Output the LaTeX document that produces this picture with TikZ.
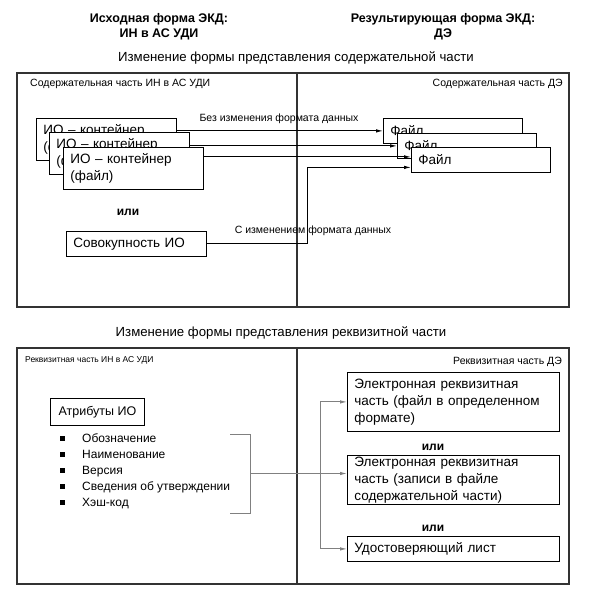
\documentclass[tikz,border=0pt]{standalone}
\usepackage{fontspec}
\setmainfont{Liberation Sans}
\usetikzlibrary{arrows.meta}
\begin{document}
\begin{tikzpicture}[x=1pt,y=-1pt,inner sep=0pt,
   frame/.style={draw=black!80,line width=1.7pt},
   divider/.style={draw=black!80,line width=1.3pt},
   box/.style={draw,fill=white,line width=0.8pt,anchor=north west,align=left,
     inner xsep=7pt,font=\fontsize{13.5}{17}\selectfont},
   lbl/.style={font=\fontsize{10.5}{12}\selectfont},
   head/.style={font=\bfseries\fontsize{12.5}{15}\selectfont,align=center},
   title/.style={font=\fontsize{13.2}{15}\selectfont},
   ili/.style={font=\bfseries\fontsize{12}{14}\selectfont},
   item/.style={anchor=base west,font=\fontsize{12}{14}\selectfont},
   arr/.style={-{Latex[length=7pt,width=3.5pt]},line width=0.9pt},
   gline/.style={draw=black!50,line width=0.9pt},
   garr/.style={gline,-{Latex[length=7pt,width=3.5pt]}}]
   \useasboundingbox (0,0) rectangle (593,601);
   % headings
   \node[head] (src) at (159,27) {Исходная форма ЭКД:\\ИН в АС УДИ};
   \node[head] (res) at (443,27) {Результирующая форма ЭКД:\\ДЭ};
   \node[title] (t1) at (296,58) {Изменение формы представления содержательной части};
   \node[title] (t2) at (281,333) {Изменение формы представления реквизитной части};

   % content part
   \draw[frame] (17,73) rectangle (569,307);
   \draw[divider] (297,73) -- (297,307);
   \node[lbl,anchor=west] (lsrc) at (30,84) {Содержательная часть ИН в АС УДИ};
   \node[lbl,anchor=east] (ldst) at (563,84) {Содержательная часть ДЭ};

   \node[box,text width=126pt,minimum height=42pt] (io1) at (36,118) {ИО – контейнер\\(файл)};
   \node[box,text width=126pt,minimum height=42pt] (io2) at (49,132) {ИО – контейнер\\(файл)};
   \node[box,text width=126pt,minimum height=42pt] (io3) at (63,147) {ИО – контейнер\\(файл)};
   \node[ili] (or1) at (128,212) {или};
   \node[box,text width=126pt,minimum height=25pt] (sov) at (66,231) {Совокупность ИО};

   \node[box,text width=125pt,minimum height=25pt] (f1) at (383,118) {Файл};
   \node[box,text width=125pt,minimum height=25pt] (f2) at (397,133) {Файл};
   \node[box,text width=125pt,minimum height=25pt] (f3) at (411,147) {Файл};
   \coordinate (f3a) at ([yshift=3pt]f3.west);
   \coordinate (f3b) at ([yshift=-7.5pt]f3.west);

   \draw[arr] (io1.east |- f1.west) -- (f1.west);
   \draw[arr] (io2.east |- f2.west) -- (f2.west);
   \draw[arr] (io3.east |- f3a) -- (f3a);
   \draw[arr] (sov.east) -- ++(101,0) |- (f3b);
   \node[lbl] (same) at (279,119) {Без изменения формата данных};
   \node[lbl] (conv) at (313,231) {С изменением формата данных};

   % requisite part
   \draw[frame] (17,348) rectangle (569,584);
   \draw[divider] (297,348) -- (297,584);
   \node[lbl,anchor=west,font=\fontsize{8.5}{10}\selectfont] (rsrc) at (25,360) {Реквизитная часть ИН в АС УДИ};
   \node[lbl,anchor=east] (rdst) at (562,362) {Реквизитная часть ДЭ};

   \node[box,minimum width=94pt,minimum height=27pt,font=\fontsize{12.5}{15}\selectfont] (attr) at (50,398) {Атрибуты ИО};
   \foreach \y/\t in {438/Обозначение,
                      454/Наименование,
                      470/Версия,
                      486/Сведения об утверждении,
                      502/Хэш-код}
     {
     \fill (60,\y-2) rectangle ++(4.5,4.5);
     \node[item] at (82,\y+4.3) {\t};
     }
   \coordinate (btop) at (230,434);
   \coordinate (bbot) at (230,513);
   \draw[gline] (btop) -- ++(20,0) |- (bbot);
   \coordinate (bmid) at (250,473.5);
   \coordinate (split) at (320,473.5);

   \node[box,text width=198pt,minimum height=59pt] (r1) at (347,372)
     {Электронная реквизитная\\часть (файл в определенном\\формате)};
   \node[ili] (or2) at (433,447) {или};
   \node[box,text width=198pt,minimum height=49pt] (r2) at (347,455)
     {Электронная реквизитная\\часть (записи в файле\\содержательной части)};
   \node[ili] (or3) at (433,528) {или};
   \node[box,text width=198pt,minimum height=25pt] (r3) at (347,536) {Удостоверяющий лист};

   \draw[garr] (bmid) -- (r2.west |- bmid);
   \draw[garr] (split) |- (r1.west);
   \draw[garr] (split) |- (r3.west);
\end{tikzpicture}
\end{document}
